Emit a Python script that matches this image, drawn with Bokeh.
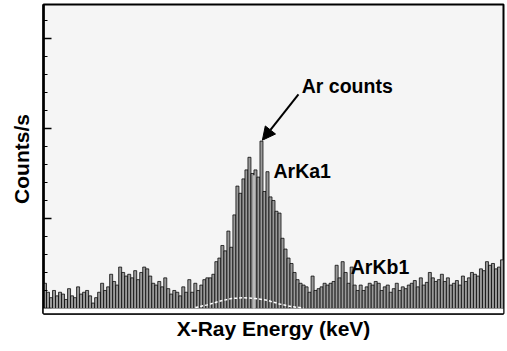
from bokeh.plotting import figure
from bokeh.models import (Range1d, SingleIntervalTicker, Arrow, NormalHead, Label,
                          BoxAnnotation, CustomJSTickFormatter)
from bokeh.embed import file_html
from bokeh.resources import INLINE

# ---- data (arbitrary count units) ----
counts = [
    1.4, 0.9, 0.6, 1.0, 0.7, 0.9, 0.8, 0.5, 1.1, 0.7,
    0.6, 1.2, 0.8, 0.9, 1.0, 0.7, 0.3, 0.6, 0.9, 1.4,
    1.0, 1.2, 1.9, 1.5, 1.3, 2.3, 2.0, 1.8, 1.9, 1.7,
    2.1, 1.6, 2.0, 2.3, 2.2, 1.8, 1.4, 1.3, 1.5, 1.2,
    1.7, 1.1, 0.8, 1.0, 0.9, 0.7, 1.2, 0.9, 1.6, 0.9,
    1.4, 1.0, 1.3, 1.6, 1.7, 1.7, 1.9, 2.6, 2.8, 3.5,
    3.2, 4.3, 3.4, 5.2, 6.8, 6.4, 7.2, 7.7, 8.4, 7.5,
    7.7, 7.3, 9.3, 6.5, 7.6, 6.2, 6.0, 5.4, 5.3, 3.9,
    3.3, 2.8, 2.5, 2.0, 1.6, 1.4, 1.3, 1.2, 0.9, 1.8,
    1.0, 1.1, 1.2, 1.4, 1.3, 1.4, 1.5, 2.4, 1.7, 2.6,
    2.0, 1.4, 2.3, 1.3, 1.0, 1.3, 1.0, 1.2, 1.4, 1.3,
    1.5, 1.4, 1.0, 1.2, 1.3, 0.9, 1.1, 1.4, 1.0, 1.2,
    1.1, 1.3, 1.4, 1.55, 1.2, 1.7, 1.3, 1.45, 2.0, 1.7,
    1.5, 1.6, 1.9, 1.5, 1.7, 1.3, 1.4, 1.55, 1.3, 1.8,
    1.5, 1.7, 2.0, 1.9, 1.8, 2.2, 2.1, 2.6, 2.4, 2.5,
    2.2, 2.3, 2.7,
]
channels = list(range(len(counts)))

fit_channels = [50, 54, 58, 62, 66, 70, 74, 78, 82, 86]
fit_counts = [0.05, 0.2, 0.4, 0.55, 0.6, 0.55, 0.45, 0.25, 0.1, 0.03]

marker_channel = [69.5]
marker_top = [7.4]

y_major_interval = 5
x_tick_interval = 6

FONT = "Liberation Sans"

p = figure(width=505, height=349, output_backend="svg", toolbar_location=None,
           x_range=Range1d(-0.5, len(counts) - 0.5), y_range=Range1d(-0.28, 16.89),
           min_border_left=43, min_border_right=2, min_border_top=4, min_border_bottom=36,
           background_fill_color="#f5f5f5", border_fill_color="white")

p.xgrid.visible = False
p.ygrid.visible = False
p.outline_line_color = "black"
p.outline_line_width = 2

# white strip under baseline
p.add_layout(BoxAnnotation(top=0, fill_color="white", fill_alpha=1.0, line_alpha=0))

p.vbar(x=channels, top=counts, bottom=0, width=1.0,
       fill_color="#9a9a9a", line_color="black", line_width=0.75)

p.segment(x0=marker_channel, y0=[0], x1=marker_channel, y1=marker_top,
          line_color="white", line_width=1.2)

p.line(fit_channels, fit_counts, line_color="white", line_width=1.5, line_dash="3 2")

blank = CustomJSTickFormatter(code="return ''")

# axes
for ax in (p.xaxis[0], p.yaxis[0]):
    ax.formatter = blank
    ax.major_label_standoff = 0
    ax.major_label_text_font_size = "1px"
    ax.axis_line_width = 2.5
    ax.axis_line_color = "black"
    ax.major_tick_line_color = "black"
    ax.minor_tick_line_color = "black"
    ax.major_tick_out = 0
    ax.minor_tick_out = 0
    ax.axis_label_text_font = FONT
    ax.axis_label_text_font_style = "bold"
    ax.axis_label_text_font_size = "21px"
    ax.axis_label_text_color = "black"

p.yaxis.ticker = SingleIntervalTicker(interval=y_major_interval, num_minor_ticks=5)
p.yaxis.major_tick_in = 8
p.yaxis.minor_tick_in = 4
p.yaxis.major_tick_line_width = 1.5
p.yaxis.minor_tick_line_width = 1.2
p.yaxis.axis_label = "Counts/s"
p.yaxis.axis_label_standoff = 11

p.xaxis.ticker = SingleIntervalTicker(interval=x_tick_interval, num_minor_ticks=0)
p.xaxis.major_tick_in = 3
p.xaxis.minor_tick_in = 0
p.xaxis.axis_label = "X-Ray Energy (keV)"
p.xaxis.axis_label_standoff = 3

# annotations
p.add_layout(Arrow(end=NormalHead(size=13, fill_color="black", line_color="black"),
                   x_start=84.3, y_start=11.9, x_end=72.3, y_end=9.35,
                   line_color="black", line_width=2))
for txt, xx, yy in [("Ar counts", 85.4, 12.35), ("ArKa1", 76.0, 7.65), ("ArKb1", 101.7, 2.3)]:
    p.add_layout(Label(x=xx, y=yy, text=txt, text_font=FONT, text_font_style="bold",
                       text_font_size="19.5px", text_baseline="alphabetic",
                       text_color="black"))

open("out.html", "w").write(file_html(p, INLINE))
